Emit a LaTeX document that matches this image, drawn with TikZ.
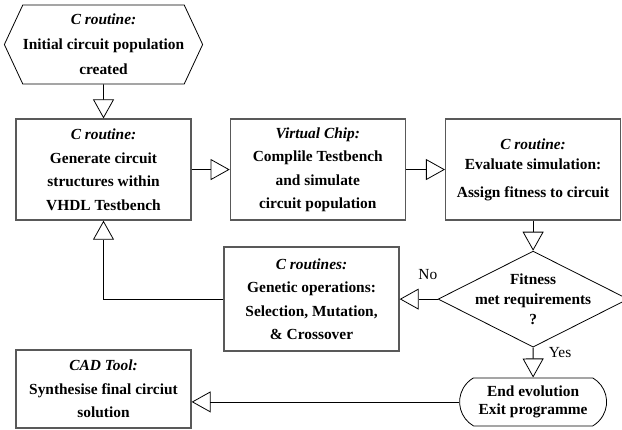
\documentclass[tikz,border=0pt]{standalone}
\usepackage{fontspec}
\setmainfont{Liberation Serif}
\usepackage{tikz}
\usetikzlibrary{arrows.meta,positioning,shapes.geometric,shapes.symbols,shapes.misc}
\newcommand{\who}[1]{\textit{#1}}
\tikzset{
  stage/.style={draw=black!65, line width=1.3pt, rectangle, minimum width=175pt,
    minimum height=101pt, align=center, font=\bfseries\fontsize{15.4}{23.5}\selectfont},
  term/.style={draw, line width=0.8pt, align=center, inner sep=0pt},
  flow/.style={-{Triangle[open,length=19pt,width=21pt]}, line width=0.8pt},
  tag/.style={font=\fontsize{15.4}{18}\selectfont}
}

\begin{document}
\begin{tikzpicture}[x=1pt,y=-1pt,node distance=38pt]
  \useasboundingbox (0,0) rectangle (622,429);
  \node[term, shape=signal, signal to=west and east, signal pointer angle=130,
    minimum width=195pt, minimum height=79pt,
    font=\bfseries\fontsize{15.4}{25}\selectfont] (init) at (103.5,44.5)
    {\who{C routine:}\\Initial circuit population\\created};
  \node[stage, below = 34pt of init] (gen)
    {\who{C routine:}\\Generate circuit\\structures within\\VHDL Testbench};
  \node[stage, right = of gen] (sim)
    {\who{Virtual Chip:}\\Complile Testbench\\and simulate\\circuit population};
  \node[stage, right = 39pt of sim, font=\bfseries\fontsize{15.4}{20}\selectfont] (eval)
    {\who{C routine:}\\Evaluate simulation:\\[8pt]Assign fitness to circuit};
  \node[term, shape=diamond, minimum width=190pt, minimum height=96pt, below = 30pt of eval,
    label={[align=center, font=\bfseries\fontsize{15.4}{20}\selectfont]center:{Fitness\\met requirements\\?}}] (fit) {};
  \node[stage, minimum height=104pt, left = of fit] (ops)
    {\who{C routines:}\\Genetic operations:\\Selection, Mutation,\\\& Crossover};
  \node[term, shape=rounded rectangle, rounded rectangle arc length=120,
    minimum width=147pt, minimum height=48pt, below = 30pt of fit,
    font=\bfseries\fontsize{15.4}{17.5}\selectfont] (end) {End evolution\\Exit programme};
  \node[stage, minimum height=78pt] (cad) at (103.5,389)
    {\who{CAD Tool:}\\Synthesise final circiut\\solution};

  \draw[flow] (init) -- (gen);
  \draw[flow] (gen) -- (sim);
  \draw[flow] (sim) -- (eval);
  \draw[flow] (eval) -- (fit);
  \draw[flow] (fit) -- node[tag, above=16pt, pos=0.26] {No} (ops);
  \draw[flow] (ops) -| (gen);
  \draw[flow] (fit) -- node[tag, right=12pt, pos=0.17] {Yes} (end);
  \draw[flow] (end) -- (end -| cad.east);
\end{tikzpicture}
\end{document}
